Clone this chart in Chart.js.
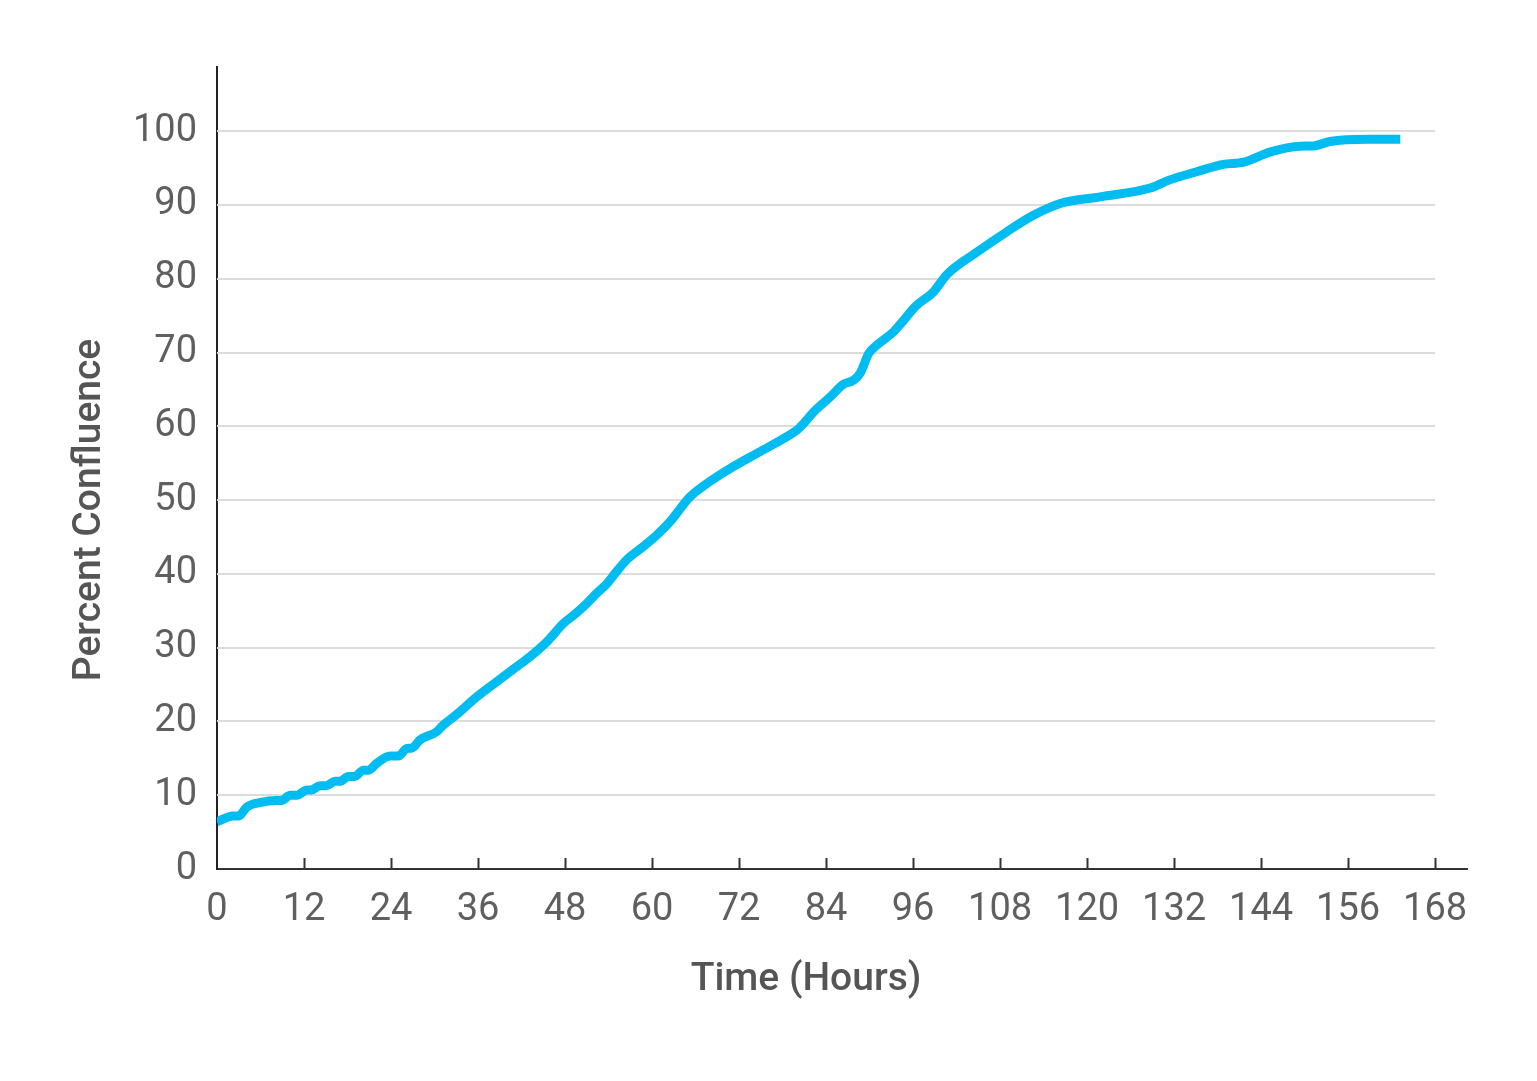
<!DOCTYPE html>
<html>
<head>
<meta charset="utf-8">
<script src="https://cdn.jsdelivr.net/npm/chart.js@4/dist/chart.umd.min.js"></script>
<style>
  html, body { margin: 0; padding: 0; background: #ffffff; }
  #wrap { width: 1537px; height: 1081px; position: relative; }
</style>
</head>
<body>
<div id="wrap"><canvas id="c" width="1537" height="1081"></canvas></div>
<script>
const hours = [0, 2.2, 3, 4.1, 5.9, 8.2, 8.9, 10.1, 11, 12.4, 13, 14.2, 15.1, 16.3, 17, 18.1, 19, 20.2, 20.9, 22,
  23.9, 25, 26.2, 26.9, 28, 30.3, 31.2, 33, 35.8, 38.6, 41.3, 43.2, 45.5, 47.8, 49.2, 51, 52.4, 53.8, 55.1, 56.5,
  58.8, 60.7, 62.5, 65.2, 67.5, 70.8, 74.4, 77.7, 80, 81.1, 82.3, 84.6, 86.4, 87.8, 88.7, 89.9, 91, 93.3, 94.2, 96.5,
  98.8, 100.6, 104.8, 108.9, 112.6, 116.3, 121.8, 128.7, 131.4, 135.1, 138.8, 141.6, 145.3, 149.4, 151.2, 153.5, 158.6, 163.2];
const confluence = [6.4, 7.2, 7.2, 8.4, 9.0, 9.3, 9.3, 10.0, 10.0, 10.7, 10.7, 11.3, 11.3, 11.9, 11.9, 12.55, 12.55, 13.4, 13.4, 14.3,
  15.3, 15.3, 16.35, 16.4, 17.5, 18.6, 19.5, 20.9, 23.3, 25.4, 27.4, 28.8, 30.8, 33.3, 34.4, 36.0, 37.4, 38.7, 40.3, 41.9,
  43.7, 45.3, 47.1, 50.4, 52.2, 54.3, 56.3, 58.1, 59.5, 60.6, 61.95, 64.0, 65.7, 66.25, 67.2, 69.9, 71.0, 72.8, 73.8, 76.4,
  78.2, 80.5, 83.6, 86.35, 88.6, 90.2, 91.1, 92.3, 93.4, 94.5, 95.5, 95.8, 97.2, 97.96, 98.0, 98.6, 98.9, 98.9];
const xTicks = [0, 12, 24, 36, 48, 60, 72, 84, 96, 108, 120, 132, 144, 156, 168];
const yTicks = [0, 10, 20, 30, 40, 50, 60, 70, 80, 90, 100];
const xTitle = 'Time (Hours)';
const yTitle = 'Percent Confluence';

const points = hours.map((h, i) => ({ x: h, y: confluence[i] }));
const lastX = xTicks[xTicks.length - 1];

const axisDecor = {
  id: 'axisDecor',
  beforeDatasetsDraw(chart) {
    const { ctx, scales: { x, y } } = chart;
    ctx.save();
    ctx.strokeStyle = '#dcdcdc';
    ctx.lineWidth = 2;
    const x0 = x.getPixelForValue(0);
    const x1 = x.getPixelForValue(lastX);
    yTicks.forEach(v => {
      if (v === 0) return;
      const py = Math.round(y.getPixelForValue(v));
      ctx.beginPath();
      ctx.moveTo(x0, py);
      ctx.lineTo(x1, py);
      ctx.stroke();
    });
    ctx.restore();
  },
  afterDraw(chart) {
    const { ctx, scales: { x, y } } = chart;
    ctx.save();
    ctx.strokeStyle = '#333333';
    ctx.lineWidth = 2;
    const by = y.getPixelForValue(0);
    xTicks.forEach(v => {
      if (v === 0) return;
      const px = Math.round(x.getPixelForValue(v)) + 0.5;
      ctx.beginPath();
      ctx.moveTo(px, by);
      ctx.lineTo(px, by - 11);
      ctx.stroke();
    });
    // axis titles
    ctx.fillStyle = '#555555';
    ctx.font = '500 39px Roboto';
    ctx.textAlign = 'center';
    ctx.textBaseline = 'middle';
    ctx.fillText(xTitle, 806, 980);
    ctx.translate(90, 510);
    ctx.rotate(-Math.PI / 2);
    ctx.fillText(yTitle, 0, 0);
    ctx.restore();
  }
};

new Chart(document.getElementById('c'), {
  type: 'line',
  data: {
    datasets: [{
      data: points,
      borderColor: '#00BCF0',
      borderWidth: 9,
      pointRadius: 0,
      cubicInterpolationMode: 'monotone',
      borderCapStyle: 'butt',
      borderJoinStyle: 'round',
      fill: false
    }]
  },
  plugins: [axisDecor],
  options: {
    responsive: false,
    animation: false,
    events: [],
    layout: { padding: { left: 0, top: 67, right: 70, bottom: 0 } },
    plugins: { legend: { display: false }, tooltip: { enabled: false } },
    scales: {
      x: {
        type: 'linear',
        min: 0,
        max: 172.4,
        afterBuildTicks(s) { s.ticks = xTicks.map(v => ({ value: v })); },
        afterFit(s) { s.height = 212; },
        grid: { display: false, drawTicks: false },
        border: { display: true, color: '#333333', width: 2 },
        ticks: {
          autoSkip: false,
          maxRotation: 0,
          padding: 19,
          color: '#5f5f5f',
          font: { family: 'Roboto', size: 38 }
        },
        title: { display: false }
      },
      y: {
        type: 'linear',
        min: 0,
        max: 108.7,
        afterBuildTicks(s) { s.ticks = yTicks.map(v => ({ value: v })); },
        afterFit(s) { s.width = 217; },
        grid: { display: false, drawTicks: false },
        border: { display: true, color: '#222222', width: 2 },
        ticks: {
          padding: 20,
          color: '#5f5f5f',
          font: { family: 'Roboto', size: 38 }
        },
        title: { display: false }
      }
    }
  }
});
</script>
</body>
</html>
